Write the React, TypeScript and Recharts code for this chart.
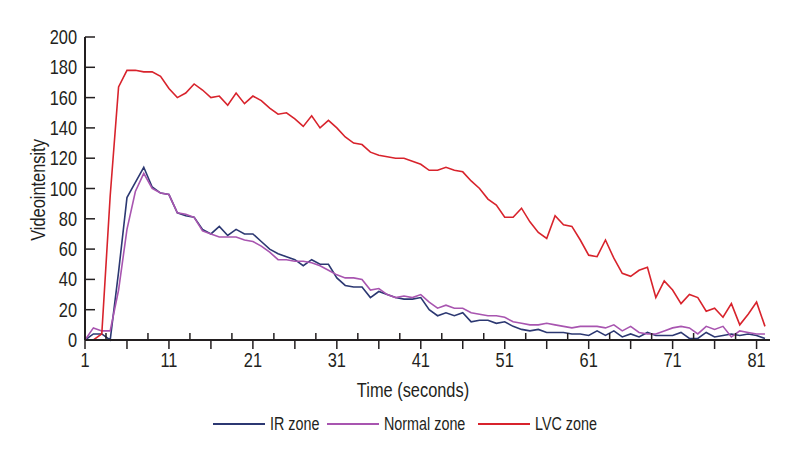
import React from 'react';
import { LineChart, Line, XAxis, YAxis, Legend, Label } from 'recharts';

// time in seconds, one sample per second
const seconds = Array.from({ length: 82 }, (_, i) => i + 1);

const irZone = [
  0, 4, 4, 0, 45, 94, 104, 114, 101, 97, 96, 84, 82, 81, 73, 70, 75, 69, 73, 70,
  70, 65, 60, 57, 55, 53, 49, 53, 50, 50, 41, 36, 35, 35, 28, 32, 30, 28, 27, 27,
  28, 20, 16, 18, 16, 18, 12, 13, 13, 11, 12, 9, 7, 6, 7, 5, 5, 5, 4, 4,
  3, 6, 3, 6, 2, 4, 2, 5, 3, 3, 3, 5, 1, 1, 5, 2, 3, 4, 3, 4,
  3, 1,
];

const normalZone = [
  0, 8, 6, 6, 33, 73, 98, 110, 100, 97, 96, 84, 83, 81, 72, 70, 68, 68, 68, 66,
  65, 62, 58, 53, 53, 52, 52, 51, 49, 46, 43, 41, 41, 40, 33, 34, 30, 28, 29, 28,
  30, 25, 21, 23, 21, 21, 18, 17, 16, 16, 15, 12, 11, 10, 10, 11, 10, 9, 8, 9,
  9, 9, 8, 10, 6, 9, 5, 4, 4, 6, 8, 9, 8, 4, 9, 7, 9, 2, 6, 5,
  4, 4,
];

const lvcZone = [
  0, 0, 4, 95, 167, 178, 178, 177, 177, 174, 166, 160, 163, 169, 165, 160, 161, 155, 163, 156,
  161, 158, 153, 149, 150, 146, 141, 148, 140, 145, 140, 134, 130, 129, 124, 122, 121, 120, 120, 118,
  116, 112, 112, 114, 112, 111, 105, 100, 93, 89, 81, 81, 87, 78, 71, 67, 82, 76, 75, 66,
  56, 55, 66, 54, 44, 42, 46, 48, 28, 39, 33, 24, 30, 28, 19, 21, 15, 24, 10, 17,
  25, 9,
];

const xLabels = [1, 11, 21, 31, 41, 51, 61, 71, 81];
const xTicks = Array.from({ length: 33 }, (_, i) => 1 + i * 2.5);
const yTicks = [0, 20, 40, 60, 80, 100, 120, 140, 160, 180, 200];

const series = [
  { key: 'ir', name: 'IR zone', color: '#2c3872' },
  { key: 'normal', name: 'Normal zone', color: '#a855b0' },
  { key: 'lvc', name: 'LVC zone', color: '#d8232c' },
];
// legend swatch left edges
const legendX = [213, 327, 478];

const data = seconds.map((t, i) => ({
  t,
  ir: irZone[i],
  normal: normalZone[i],
  lvc: lvcZone[i],
}));

// condensed look: Arial-like face squeezed horizontally
const FONT = '"Liberation Sans", Arial, sans-serif';
const SQ = 0.82;
const INK = '#231f20';

const Txt = ({ x, y, anchor = 'start', size = 20, rotate = 0, children }: any) => (
  <text
    transform={`translate(${x} ${y}) rotate(${rotate}) scale(${SQ} 1)`}
    textAnchor={anchor}
    fontFamily={FONT}
    fontSize={size}
    fill={INK}
  >
    {children}
  </text>
);

const XTick = (props: any) => {
  const { x, y, payload } = props;
  const v = payload.value;
  const below = (v - 1) % 5 === 0;
  return (
    <g>
      <line x1={x} x2={x} y1={y} y2={below ? y + 9 : y - 7} stroke={INK} strokeWidth={1.5} />
      {xLabels.includes(v) && (
        <Txt x={x} y={y + 27} anchor="middle">
          {v}
        </Txt>
      )}
    </g>
  );
};

const YTick = (props: any) => {
  const { x, y, payload } = props;
  return (
    <g>
      <line x1={x} x2={x + 10} y1={y} y2={y} stroke={INK} strokeWidth={1.5} />
      <Txt x={x - 8} y={y + 7} anchor="end">
        {payload.value}
      </Txt>
    </g>
  );
};

const LegendBox = () => (
  <svg width={800} height={24} style={{ display: 'block' }}>
    {series.map((s, i) => (
      <g key={s.key}>
        <line x1={legendX[i]} x2={legendX[i] + 52} y1={12} y2={12} stroke={s.color} strokeWidth={2} />
        <Txt x={legendX[i] + 57} y={18} size={17.5}>
          {s.name}
        </Txt>
      </g>
    ))}
  </svg>
);

export default function App() {
  return (
    <div style={{ position: 'absolute', left: 0, top: 0, width: 800, height: 460, background: '#fff' }}>
      <LineChart width={800} height={460} data={data} margin={{ top: 37, right: 30, left: 0, bottom: 24 }}>
        <XAxis
          dataKey="t"
          type="number"
          domain={[1, 82.6]}
          ticks={xTicks}
          interval={0}
          height={72}
          tickSize={0}
          tickMargin={0}
          tickLine={false}
          tick={<XTick />}
          axisLine={{ stroke: INK, strokeWidth: 2 }}
        >
          <Label
            content={() => (
              <Txt x={413} y={397} anchor="middle">
                Time (seconds)
              </Txt>
            )}
          />
        </XAxis>
        <YAxis
          type="number"
          domain={[0, 200]}
          ticks={yTicks}
          interval={0}
          width={85}
          tickSize={0}
          tickMargin={0}
          tickLine={false}
          tick={<YTick />}
          axisLine={{ stroke: INK, strokeWidth: 2 }}
        >
          <Label
            content={() => (
              <Txt x={45} y={190} anchor="middle" rotate={-90}>
                Videointensity
              </Txt>
            )}
          />
        </YAxis>
        <Legend verticalAlign="bottom" wrapperStyle={{ left: 0, width: 800 }} content={<LegendBox />} />
        {series.map((s) => (
          <Line
            key={s.key}
            type="linear"
            dataKey={s.key}
            name={s.name}
            stroke={s.color}
            strokeWidth={1.6}
            dot={false}
            isAnimationActive={false}
          />
        ))}
      </LineChart>
    </div>
  );
}
